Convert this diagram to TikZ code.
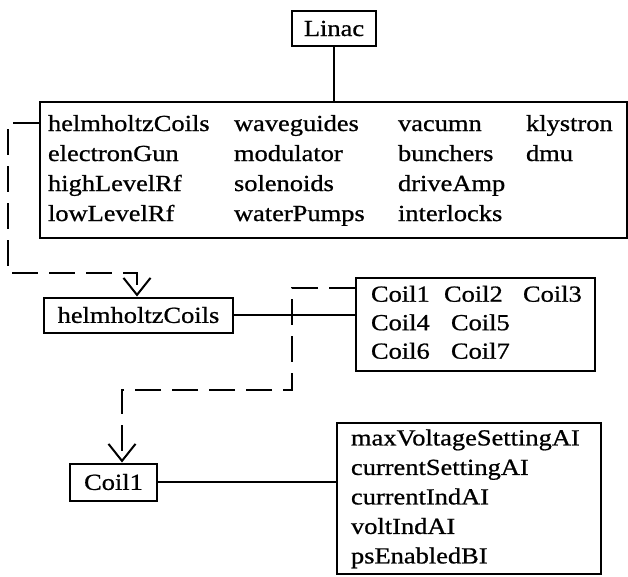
\documentclass[tikz,border=0pt]{standalone}
\usepackage{fontspec}
\setmainfont{Liberation Serif}[FakeStretch=1.15,FakeBold=0.8]
\usetikzlibrary{arrows.meta}
\begin{document}
\begin{tikzpicture}[x=1pt,y=-1pt,
  box/.style={draw, line width=2pt, inner sep=0pt, font=\fontsize{23}{29}\selectfont},
  conn/.style={line width=2pt},
  dashconn/.style={line width=2pt, dash pattern=on 26pt off 11pt},
  barb/.style={-{Straight Barb[length=17pt,width=27pt,line width=2pt]}}
]
\useasboundingbox[fill=white] (0,0) rectangle (628,576);

\node[box, minimum width=84pt, minimum height=35pt] (linac) at (334,28.5) {Linac};

\node[box, anchor=north west, minimum width=587pt, minimum height=136pt,
      inner xsep=8pt, font=\fontsize{23}{30}\selectfont] (list) at (39,101)
 {\begin{tabular}{@{}p{186pt}@{}p{164pt}@{}p{128pt}@{}p{93pt}@{}}
  helmholtzCoils & waveguides & vacumn & klystron\\
  electronGun & modulator & bunchers & dmu\\
  highLevelRf & solenoids & driveAmp & \\
  lowLevelRf & waterPumps & interlocks &
  \end{tabular}};

\node[box, minimum width=189pt, minimum height=35pt] (hc) at (138.5,315) {helmholtzCoils};

\node[box, anchor=north west, minimum width=239pt, minimum height=93pt,
      inner xsep=15pt, font=\fontsize{23}{28.5}\selectfont] (coils) at (355,277)
 {\begin{tabular}{@{}p{209pt}@{}}
  \makebox[73pt][l]{Coil1}\makebox[79pt][l]{Coil2}Coil3\\
  \makebox[80pt][l]{Coil4}Coil5\\
  \makebox[80pt][l]{Coil6}Coil7
  \end{tabular}};

\node[box, minimum width=87pt, minimum height=37pt] (c1) at (113.5,482) {Coil1};

\node[box, anchor=north west, minimum width=264pt, minimum height=151pt,
      inner xsep=14pt, font=\fontsize{23}{29.5}\selectfont] (attrs) at (336,422)
 {\begin{tabular}{@{}p{236pt}@{}}
  maxVoltageSettingAI\\
  currentSettingAI\\
  currentIndAI\\
  voltIndAI\\
  psEnabledBI
  \end{tabular}};

% solid connectors
\draw[conn] (linac.south) -- (linac.south |- list.north);
\draw[conn] (hc.east) -- (hc.east -| coils.west);
\draw[conn] (c1.east) -- (c1.east -| attrs.west);

% dashed connectors
\coordinate (p1) at (8,123);
\coordinate (p2) at (8,273);
\coordinate (p3) at (137,273);
\draw[dashconn, barb] (list.west |- p1) -- (p1) -- (p2) -- (p3) -- (p3 |- hc.north);

\coordinate (q1) at (292,288);
\coordinate (q2) at (292,390);
\coordinate (q3) at (122,390);
\draw[dashconn, barb] (coils.west |- q1) -- (q1) -- (q2) -- (q3) -- (q3 |- c1.north);
\end{tikzpicture}
\end{document}
